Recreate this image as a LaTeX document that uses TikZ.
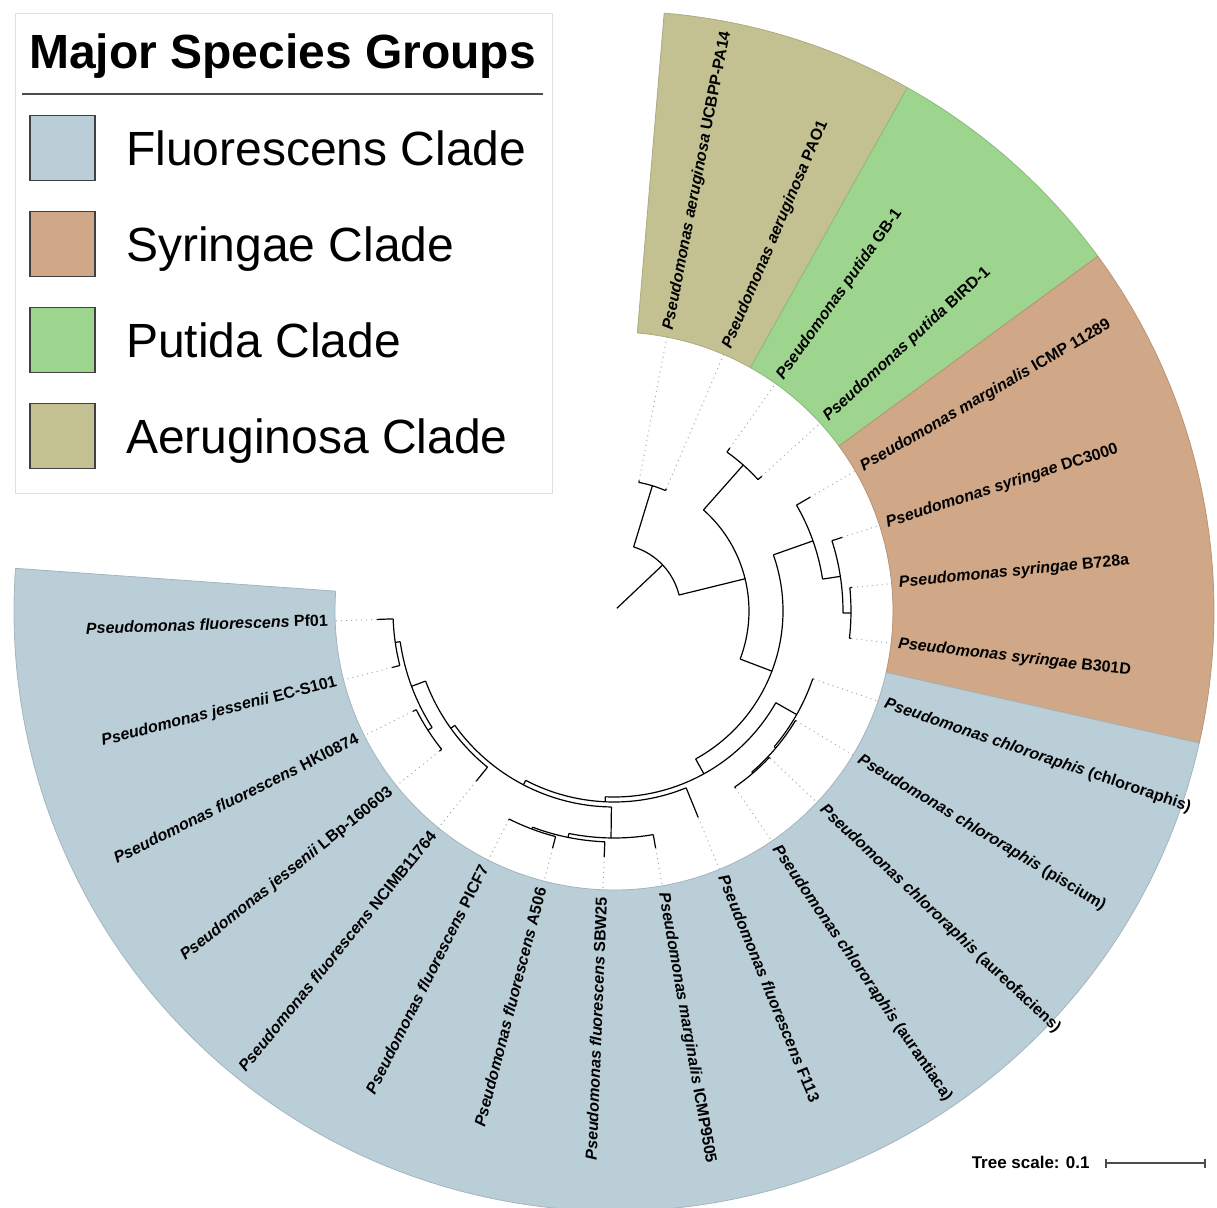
\documentclass[tikz,border=0pt]{standalone}
\usepackage{fontspec}
\setmainfont{Liberation Sans}
\usepackage{tikz}
\usetikzlibrary{arrows.meta,positioning}
\definecolor{fluo}{RGB}{186,206,216}
\definecolor{syri}{RGB}{208,168,136}
\definecolor{puti}{RGB}{158,213,142}
\definecolor{aeru}{RGB}{195,193,146}
\newcommand{\pse}[2]{\textit{Pseudomonas #1} #2}
% stem at angle #1 from radius #2 to #3, children joined from #4 to #5
\newcommand{\clade}[5]{\draw[branch] (#1:#2) -- (#1:#3);
  \draw[branch] (#4:#3) arc[start angle=#4, end angle=#5, radius=#3*0.5pt];}
% leaf #1 at angle #2, from radius #3 to tip #4
\newcommand{\leaf}[4]{\coordinate (t#1) at (#2:#4);
  \draw[branch] (#2:#3) -- (t#1);
  \draw[dots] (t#1) -- (l#1);}
\newcommand{\sector}[3]{\fill[#1, draw=#1!88!black, line width=0.4pt] (#2:279) -- (#2:600)
  arc[start angle=#2, end angle=#3, radius=300pt] -- (#3:279)
  arc[start angle=#3, end angle=#2, radius=139.5pt] -- cycle;}

\begin{document}
\begin{tikzpicture}[x=0.5pt, y=0.5pt,
    branch/.style={black, line width=0.6pt},
    dots/.style={gray!70, dotted, line width=0.5pt, shorten >=3pt},
    taxon/.style={font=\fontsize{8}{9.5}\selectfont\bfseries, inner sep=0pt, text height=6.2pt, text depth=1.7pt},
    swatch/.style={draw=black!75, line width=0.8pt, minimum size=32.5pt, inner sep=0pt},
    keytext/.style={font=\fontsize{24}{28}\selectfont, inner sep=0pt, text height=17.2pt, text depth=0pt}]
  \useasboundingbox (-614,-596) rectangle (603,611);

  % clade sectors
  \sector{aeru}{85.2}{60.72}
  \sector{puti}{60.72}{36.24}
  \sector{syri}{36.24}{-12.72}
  \sector{fluo}{-12.72}{-184.08}

  % taxon labels
  \node[taxon, anchor=west, rotate=79.08] (l1) at (79.08:286) {\pse{aeruginosa}{UCBPP-PA14}};
  \node[taxon, anchor=west, rotate=66.84] (l2) at (66.84:286) {\pse{aeruginosa}{PAO1}};
  \node[taxon, anchor=west, rotate=54.60] (l3) at (54.60:286) {\pse{putida}{GB-1}};
  \node[taxon, anchor=west, rotate=42.36] (l4) at (42.36:286) {\pse{putida}{BIRD-1}};
  \node[taxon, anchor=west, rotate=30.12] (l5) at (30.12:286) {\pse{marginalis}{ICMP 11289}};
  \node[taxon, anchor=west, rotate=17.88] (l6) at (17.88:286) {\pse{syringae}{DC3000}};
  \node[taxon, anchor=west, rotate=5.64] (l7) at (5.64:286) {\pse{syringae}{B728a}};
  \node[taxon, anchor=west, rotate=-6.60] (l8) at (-6.60:286) {\pse{syringae}{B301D}};
  \node[taxon, anchor=west, rotate=-18.84] (l9) at (-18.84:286) {\pse{chlororaphis}{(chlororaphis)}};
  \node[taxon, anchor=west, rotate=-31.08] (l10) at (-31.08:286) {\pse{chlororaphis}{(piscium)}};
  \node[taxon, anchor=west, rotate=-43.32] (l11) at (-43.32:286) {\pse{chlororaphis}{(aureofaciens)}};
  \node[taxon, anchor=west, rotate=-55.56] (l12) at (-55.56:286) {\pse{chlororaphis}{(aurantiaca)}};
  \node[taxon, anchor=west, rotate=-67.80] (l13) at (-67.80:286) {\pse{fluorescens}{F113}};
  \node[taxon, anchor=west, rotate=-80.04] (l14) at (-80.04:286) {\pse{marginalis}{ICMP9505}};
  \node[taxon, anchor=east, rotate=87.72] (l15) at (-92.28:286) {\pse{fluorescens}{SBW25}};
  \node[taxon, anchor=east, rotate=75.48] (l16) at (-104.52:286) {\pse{fluorescens}{A506}};
  \node[taxon, anchor=east, rotate=63.24] (l17) at (-116.76:286) {\pse{fluorescens}{PICF7}};
  \node[taxon, anchor=east, rotate=51.00] (l18) at (-129.00:286) {\pse{fluorescens}{NCIMB11764}};
  \node[taxon, anchor=east, rotate=38.76] (l19) at (-141.24:286) {\pse{jessenii}{LBp-160603}};
  \node[taxon, anchor=east, rotate=26.52] (l20) at (-153.48:286) {\pse{fluorescens}{HKI0874}};
  \node[taxon, anchor=east, rotate=14.28] (l21) at (-165.72:286) {\pse{jessenii}{EC-S101}};
  \node[taxon, anchor=east, rotate=2.04] (l22) at (-177.96:286) {\pse{fluorescens}{Pf01}};

  % tree
  \clade{43.39}{4}{67}{72.96}{13.82}
  \clade{72.96}{67}{131}{79.08}{66.84}
  \leaf{1}{79.08}{131}{133}
  \leaf{2}{66.84}{131}{133}
  \clade{13.82}{67}{135}{48.48}{-20.85}
  \clade{48.48}{135}{195}{54.60}{42.36}
  \leaf{3}{54.60}{195}{200}
  \leaf{4}{42.36}{195}{200}
  \clade{-20.85}{135}{169}{19.41}{-61.10}
  \clade{19.41}{169}{211}{30.12}{8.70}
  \leaf{5}{30.12}{211}{227}
  \clade{8.70}{211}{229}{17.88}{-0.48}
  \leaf{6}{17.88}{229}{240}
  \clade{-0.48}{229}{237}{5.64}{-6.60}
  \leaf{7}{5.64}{237}{239}
  \leaf{8}{-6.60}{237}{239}
  \clade{-61.10}{169}{186}{-29.55}{-92.66}
  \clade{-29.55}{186}{210}{-18.84}{-40.26}
  \leaf{9}{-18.84}{210}{211}
  \clade{-40.26}{210}{212}{-31.08}{-49.44}
  \leaf{10}{-31.08}{212}{213}
  \clade{-49.44}{212}{213.5}{-43.32}{-55.56}
  \leaf{11}{-43.32}{213.5}{215}
  \leaf{12}{-55.56}{213.5}{215}
  \clade{-92.66}{186}{191}{-67.80}{-117.53}
  \leaf{13}{-67.80}{191}{223}
  \clade{-117.53}{191}{196}{-90.75}{-144.30}
  \clade{-90.75}{196}{227}{-80.04}{-101.46}
  \leaf{14}{-80.04}{227}{241}
  \clade{-101.46}{227}{231}{-92.28}{-110.64}
  \leaf{15}{-92.28}{231}{246}
  \clade{-110.64}{231}{233}{-104.52}{-116.76}
  \leaf{16}{-104.52}{233}{245}
  \leaf{17}{-116.76}{233}{234}
  \clade{-144.30}{196}{201}{-129.00}{-159.60}
  \leaf{18}{-129.00}{201}{219}
  \clade{-159.60}{201}{216}{-147.36}{-171.84}
  \clade{-147.36}{216}{221}{-141.24}{-153.48}
  \leaf{19}{-141.24}{221}{224}
  \leaf{20}{-153.48}{221}{225}
  \clade{-171.84}{216}{221}{-165.72}{-177.96}
  \leaf{21}{-165.72}{221}{229}
  \leaf{22}{-177.96}{221}{237}

  % legend
  \draw[gray!25, fill=white] (-599,118) rectangle (-62,598);
  \node[font=\fontsize{24}{28}\selectfont\bfseries, anchor=base] (title) at (-331.5,543) {Major Species Groups};
  \draw[black!70, line width=0.6pt] (-592,517) -- (-71,517);
  \node[swatch, fill=fluo] (kfluo) at (-551.5,463) {};
  \node[swatch, fill=syri] (ksyri) at (-551.5,367) {};
  \node[swatch, fill=puti] (kputi) at (-551.5,271) {};
  \node[swatch, fill=aeru] (kaeru) at (-551.5,175) {};
  \node[keytext, right=15pt of kfluo] {Fluorescens Clade};
  \node[keytext, right=15pt of ksyri] {Syringae Clade};
  \node[keytext, right=15pt of kputi] {Putida Clade};
  \node[keytext, right=15pt of kaeru] {Aeruginosa Clade};

  % scale bar
  \node[font=\fontsize{8.5}{10}\selectfont\bfseries, inner sep=0pt, anchor=east] (scaletxt) at (476,-551) {Tree scale: 0.1};
  \coordinate (sb1) at (491,-552);
  \coordinate (sb2) at (592,-552);
  \draw[black!70, line width=1.2pt, {Bar[width=4.5pt]}-{Bar[width=4.5pt]}] (sb1) -- (sb2);
\end{tikzpicture}
\end{document}
